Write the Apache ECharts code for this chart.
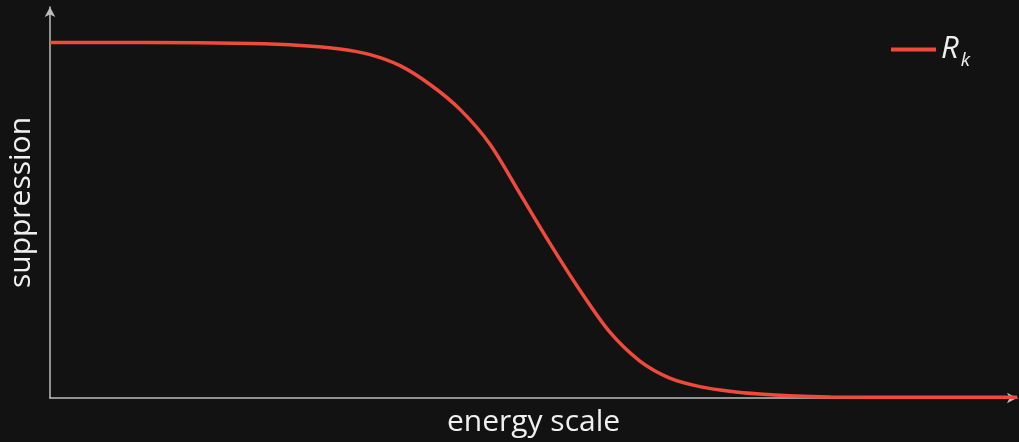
<!DOCTYPE html>
<html>
<head>
<meta charset="utf-8">
<script src="https://cdn.jsdelivr.net/npm/echarts@6/dist/echarts.min.js"></script>
<style>
html,body{margin:0;padding:0;background:#121212;}
#c{width:1019px;height:442px;}
</style>
</head>
<body>
<div id="c"></div>
<script>
// energy scale (arbitrary units) and suppression values
var xValues = [0, 1.0, 2.07, 2.59, 3.00, 3.31, 3.62, 3.93, 4.24, 4.55, 4.86, 5.17, 5.48, 5.79, 6.10, 6.41, 6.72, 7.03, 7.34, 7.65, 8.07, 9.0, 10];
var suppression = [1.0, 1.0, 0.997, 0.992, 0.982, 0.966, 0.935, 0.882, 0.812, 0.714, 0.575, 0.435, 0.303, 0.185, 0.104, 0.056, 0.032, 0.019, 0.011, 0.006, 0.003, 0.002, 0.002];
var seriesName = 'R_k';
var xAxisName = 'energy scale';
var yAxisName = 'suppression';

var data = xValues.map(function (x, i) { return [x, suppression[i]]; });

var chart = echarts.init(document.getElementById('c'));
var axisColor = '#bdbdbd';
var font = '"Open Sans", "Noto Sans", sans-serif';
chart.setOption({
  backgroundColor: '#121212',
  animation: false,
  grid: { left: 50, right: 2, top: 7, bottom: 44, outerBoundsMode: 'none', containLabel: false },
  legend: {
    right: 44, top: 24,
    itemWidth: 45, itemHeight: 4,
    itemGap: 9,
    data: [{ name: seriesName, icon: 'rect' }],
    formatter: function () { return '{r|R}{k|k}'; },
    textStyle: {
      rich: {
        r: { fontFamily: font, fontStyle: 'italic', fontSize: 31, color: '#eeeeee', lineHeight: 34, verticalAlign: 'middle' },
        k: { fontFamily: font, fontStyle: 'italic', fontSize: 19, color: '#eeeeee', lineHeight: 34, padding: [22, 0, 0, 2], verticalAlign: 'middle' }
      }
    }
  },
  xAxis: {
    type: 'value', min: 0, max: 10,
    name: xAxisName, nameLocation: 'middle', nameGap: 9,
    nameTextStyle: { color: '#f0f0f0', fontSize: 30, fontFamily: font, verticalAlign: 'top' },
    axisLine: { show: true, lineStyle: { color: axisColor, width: 1.5 }, symbol: ['none', 'arrow'], symbolSize: [8, 10] },
    axisTick: { show: false }, axisLabel: { show: false }, splitLine: { show: false }
  },
  yAxis: {
    type: 'value', min: 0, max: 1.1,
    name: yAxisName, nameLocation: 'middle', nameGap: 14,
    nameTextStyle: { color: '#f0f0f0', fontSize: 30, fontFamily: font },
    axisLine: { show: true, lineStyle: { color: axisColor, width: 1.5 }, symbol: ['none', 'arrow'], symbolSize: [8, 10] },
    axisTick: { show: false }, axisLabel: { show: false }, splitLine: { show: false }
  },
  series: [{
    name: seriesName, type: 'line', data: data,
    smooth: 0.3, symbol: 'none',
    lineStyle: { color: '#ef4a3a', width: 3.5 },
    itemStyle: { color: '#ef4a3a' }
  }]
});
</script>
</body>
</html>
